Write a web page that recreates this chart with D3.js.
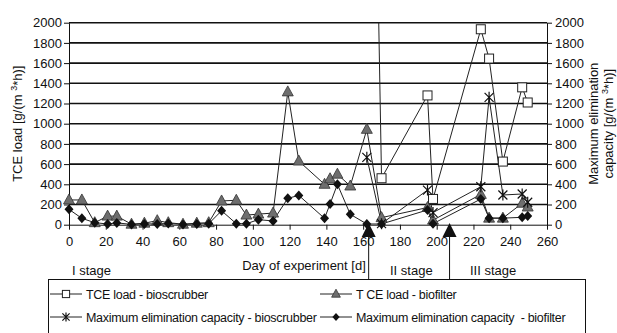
<!DOCTYPE html>
<html>
<head>
<meta charset="utf-8">
<script src="https://cdn.jsdelivr.net/npm/d3@7"></script>
<style>
  html, body { margin: 0; padding: 0; background: #fff; }
  svg { display: block; font-family: "Liberation Sans", Arial, sans-serif; }
</style>
</head>
<body>
<svg id="chart" width="617" height="333"></svg>
<script>
// Day of experiment for each measurement
const daysEarly = [0, 7, 14, 21, 26, 34, 41, 48, 54, 62, 69.5, 76, 83, 91, 96.5, 103, 111, 119, 125, 139, 142, 146, 153, 162, 170, 195, 198, 224, 228.5, 236, 246.5, 249.5];
const daysScrubber = [162, 170, 195, 198, 224, 228.5, 236, 246.5, 249.5];

// TCE load, bioscrubber [g/(m3*h)]
const loadScrubber = [8560, 460, 1280, 255, 1935, 1645, 625, 1360, 1210];
// TCE load, biofilter [g/(m3*h)]
const loadBiofilter = [245, 245, 20, 85, 85, 5, 15, 40, 20, 5, 15, 20, 235, 242, 95, 105, 115, 1315, 630, 400, 455, 500, 383, 944, 70, 170, 45, 300, 65, 65, 212, 175];
// Maximum elimination capacity, bioscrubber [g/(m3*h)]
const ecScrubber = [667, 10, 343, 120, 376, 1261, 294, 304, 222];
// Maximum elimination capacity, biofilter [g/(m3*h)]
const ecBiofilter = [152, 63, 20, 7, 18, 3, 8, 8, 12, 3, 8, 10, 138, 10, 10, 50, 37, 261, 290, 63, 205, 400, 103, 7, 7, 146, 10, 254, 65, 65, 73, 86];

const xTicks = d3.range(0, 261, 20);
const yTicks = d3.range(0, 2001, 200);

// Stage boundaries (days) marked with arrows
const stageDays = [163, 207];
const stageLabels = ["I stage", "II stage", "III stage"];

const legendNames = ["TCE load - bioscrubber", "T CE load - biofilter",
  "Maximum elimination capacity - bioscrubber", "Maximum elimination capacity  - biofilter"];

const svg = d3.select("#chart");
const pLeft = 69, pRight = 547, pTop = 22.7, pBottom = 224.7;

const x = d3.scaleLinear().domain([0, 260]).range([pLeft, pRight]);
const y = d3.scaleLinear().domain([0, 2000]).range([pBottom, pTop]);
const fmt = d3.format("d");

// Horizontal grid lines
svg.append("g").selectAll("line").data(yTicks.filter(v => v > 0)).join("line")
  .attr("x1", pLeft).attr("x2", pRight)
  .attr("y1", d => y(d)).attr("y2", d => y(d))
  .attr("stroke", "#111").attr("stroke-width", 1.6);

// Axes
const axisStyle = g => {
  g.select(".domain").attr("stroke", "#111").attr("stroke-width", 1);
  g.selectAll(".tick line").attr("stroke", "#111");
  g.selectAll(".tick text").attr("fill", "#111").attr("font-size", 13)
    .attr("font-family", "'Liberation Sans', Arial, sans-serif");
};
svg.append("g").attr("transform", `translate(${pLeft},0)`)
  .call(d3.axisLeft(y).tickValues(yTicks).tickFormat(fmt).tickSize(5).tickPadding(2).tickSizeOuter(0))
  .call(axisStyle);
svg.append("g").attr("transform", `translate(${pRight},0)`)
  .call(d3.axisRight(y).tickValues(yTicks).tickFormat(fmt).tickSize(5).tickPadding(3).tickSizeOuter(0))
  .call(axisStyle);
svg.append("g").attr("transform", `translate(0,${pBottom})`)
  .call(d3.axisBottom(x).tickValues(xTicks).tickFormat(fmt).tickSize(5).tickPadding(7).tickSizeOuter(0))
  .call(axisStyle);

// Axis titles
svg.append("text")
  .attr("transform", `translate(22,${(pTop + pBottom) / 2}) rotate(-90)`)
  .attr("text-anchor", "middle").attr("font-size", 13).attr("fill", "#111")
  .html('TCE load [g/(m <tspan dy="-5" font-size="9">3</tspan><tspan dy="5">*h)]</tspan>');
svg.append("text")
  .attr("transform", `translate(598,${(pTop + pBottom) / 2}) rotate(-90)`)
  .attr("text-anchor", "middle").attr("font-size", 13).attr("fill", "#111")
  .text("Maximum elimination");
svg.append("text")
  .attr("transform", `translate(613,${(pTop + pBottom) / 2}) rotate(-90)`)
  .attr("text-anchor", "middle").attr("font-size", 13).attr("fill", "#111")
  .html('capacity [g/(m <tspan dy="-5" font-size="9">3</tspan><tspan dy="5">*h)]</tspan>');

svg.append("text").attr("x", 304).attr("y", 270).attr("text-anchor", "middle")
  .attr("font-size", 13).attr("fill", "#111").text("Day of experiment [d]");

// Stage labels
const stageX = [72, 390, 470];
stageLabels.forEach((s, i) => {
  svg.append("text").attr("x", stageX[i]).attr("y", 275)
    .attr("font-size", 13).attr("fill", "#111").text(s);
});

// Stage arrows
stageDays.forEach(d => {
  const cx = x(d);
  svg.append("line").attr("x1", cx).attr("x2", cx).attr("y1", 235).attr("y2", 280)
    .attr("stroke", "#111").attr("stroke-width", 1);
  svg.append("path")
    .attr("d", `M${cx},${223} L${cx + 7},${237} L${cx - 7},${237} Z`)
    .attr("fill", "#111");
});

// Series
svg.append("defs").append("clipPath").attr("id", "plotClip")
  .append("rect").attr("x", pLeft - 10).attr("y", pTop).attr("width", pRight - pLeft + 20).attr("height", 120 + pBottom);

const plot = svg.append("g").attr("clip-path", "url(#plotClip)");

const series = [
  { days: daysScrubber, vals: loadScrubber, marker: "square" },
  { days: daysEarly, vals: loadBiofilter, marker: "triangle" },
  { days: daysScrubber, vals: ecScrubber, marker: "star" },
  { days: daysEarly, vals: ecBiofilter, marker: "diamond" }
];

function drawMarker(g, type, cx, cy, k = 1) {
  if (type === "square") {
    const h = 4.5 * k;
    g.append("rect").attr("x", cx - h).attr("y", cy - h).attr("width", 2 * h).attr("height", 2 * h)
      .attr("fill", "#fff").attr("stroke", "#222").attr("stroke-width", 1);
  } else if (type === "triangle") {
    g.append("path").attr("d", `M${cx},${cy - 6 * k} L${cx + 5.5 * k},${cy + 4 * k} L${cx - 5.5 * k},${cy + 4 * k} Z`)
      .attr("fill", "#6e6e6e").attr("stroke", "#333").attr("stroke-width", 0.8);
  } else if (type === "diamond") {
    g.append("path").attr("d", `M${cx},${cy - 5 * k} L${cx + 4.5 * k},${cy} L${cx},${cy + 5 * k} L${cx - 4.5 * k},${cy} Z`)
      .attr("fill", "#111");
  } else if (type === "star") {
    const r = 4.5 * k;
    g.append("path")
      .attr("d", `M${cx - r},${cy - r} L${cx + r},${cy + r} M${cx - r},${cy + r} L${cx + r},${cy - r} M${cx},${cy - r - 1} L${cx},${cy + r + 1}`)
      .attr("stroke", "#111").attr("stroke-width", 1.2).attr("fill", "none");
  }
}

const line = d3.line().x(d => x(d[0])).y(d => y(d[1]));

series.forEach(s => {
  const pts = s.days.map((d, i) => [d, s.vals[i]]);
  plot.append("path").datum(pts).attr("d", line)
    .attr("fill", "none").attr("stroke", "#222").attr("stroke-width", 1);
});
series.forEach(s => {
  const g = plot.append("g");
  s.days.forEach((d, i) => {
    if (s.vals[i] <= 2000) drawMarker(g, s.marker, x(d), y(s.vals[i]));
  });
});

// Legend
const lg = svg.append("g");
lg.append("rect").attr("x", 48.5).attr("y", 279.5).attr("width", 537).attr("height", 60)
  .attr("fill", "#fff").attr("stroke", "#111").attr("stroke-width", 1);
const legPos = [[50, 294], [320, 294], [50, 317], [320, 317]];
series.forEach((s, i) => {
  const [lx, ly] = legPos[i];
  lg.append("line").attr("x1", lx).attr("x2", lx + 32).attr("y1", ly).attr("y2", ly)
    .attr("stroke", "#222").attr("stroke-width", 1);
  drawMarker(lg, s.marker, lx + 16, ly, 0.8);
  lg.append("text").attr("x", lx + 36).attr("y", ly + 4.5)
    .attr("font-size", 12.5).attr("letter-spacing", -0.3).attr("fill", "#111")
    .attr("xml:space", "preserve").style("white-space", "pre").text(legendNames[i]);
});
</script>
</body>
</html>
